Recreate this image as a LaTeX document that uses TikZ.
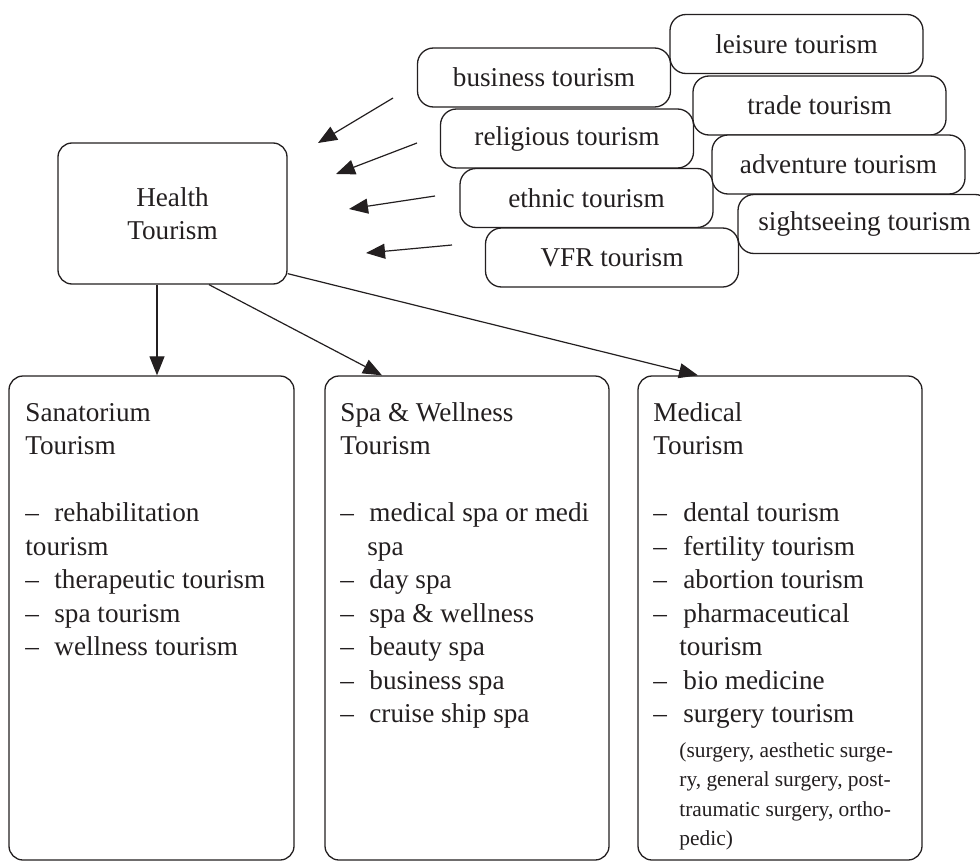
\documentclass[tikz,border=0pt]{standalone}
\usepackage{fontspec}
\setmainfont{Liberation Serif}
\usetikzlibrary{arrows.meta}
\definecolor{ink}{RGB}{35,31,32}
\newcommand\mainsz{\fontsize{13.6}{16.8}\selectfont}
\newcommand\smallsz{\fontsize{10.7}{14.75}\selectfont}
\begin{document}
\begin{tikzpicture}[x=0.5pt,y=-0.5pt,
  every node/.append style={text=ink},
  tbox/.style={draw=ink, line width=0.65pt, fill=white, rounded corners=8pt,
    minimum width=126.5pt, minimum height=29.5pt, inner sep=0pt, font=\mainsz},
  hbox/.style={draw=ink, line width=0.65pt, fill=white, rounded corners=7pt,
    minimum width=114.5pt, minimum height=70.5pt, inner sep=0pt, align=center, font=\mainsz},
  bbox/.style={draw=ink, line width=0.65pt, fill=white, rounded corners=7pt,
    minimum height=242pt, inner sep=0pt},
  ln/.style={anchor=base west, inner sep=0pt, font=\mainsz},
  sln/.style={anchor=base west, inner sep=0pt, font=\smallsz},
  arr/.style={draw=ink, line width=0.6pt, -{Triangle[length=9.5pt,width=7.5pt]}}
]
\path[use as bounding box, clip] (0,0) rectangle (980,862);

% Health Tourism
\node[hbox] (health) at (172.5,213.5) {Health\\Tourism};

% top tourism boxes
\node[tbox] (business) at (544,77.5) {business tourism};
\node[tbox] (religious) at (567,138.5) {religious tourism};
\node[tbox] (ethnic) at (586.5,198) {ethnic tourism};
\node[tbox] (vfr) at (612,257.5) {VFR tourism};
\node[tbox] (leisure) at (796.5,44) {leisure tourism};
\node[tbox] (trade) at (819.5,105.5) {trade tourism};
\node[tbox] (adventure) at (838.5,164.5) {adventure tourism};
\node[tbox] (sightseeing) at (864.5,224) {sightseeing tourism};

% incoming arrows (free ends)
\coordinate (t1) at (393,98);  \coordinate (h1) at (318,143);
\coordinate (t2) at (417,143); \coordinate (h2) at (336,174);
\coordinate (t3) at (435,196); \coordinate (h3) at (349,209);
\coordinate (t4) at (452,245); \coordinate (h4) at (366,253);
\draw[arr] (t1) -- (h1);
\draw[arr] (t2) -- (h2);
\draw[arr] (t3) -- (h3);
\draw[arr] (t4) -- (h4);

% bottom boxes
\node[bbox, minimum width=142.5pt] (sana) at (151.5,618) {};
\node[bbox, minimum width=142pt] (spa) at (467,618) {};
\node[bbox, minimum width=142pt] (med) at (780,618) {};

% arrows down
\draw[arr] ([xshift=-7.75pt]health.south) -- ([xshift=-7.75pt]health.south |- sana.north);
\draw[arr] ([xshift=18.25pt]health.south) -- ([xshift=-42.5pt]spa.north);
\draw[arr] ([yshift=5.5pt]health.south east) -- ([xshift=-41pt]med.north);

% Sanatorium text
\node[ln] (s0) at (25,421) {Sanatorium};
\node[ln] (s1) at (25,454.5) {Tourism};
\node[ln] (s3d) at (25,521.5) {–};
\node[ln] (s3) at (54,521.5) {rehabilitation};
\node[ln] (s4) at (25,555) {tourism};
\node[ln] (s5d) at (25,588.5) {–};
\node[ln] (s5) at (54,588.5) {therapeutic tourism};
\node[ln] (s6d) at (25,622) {–};
\node[ln] (s6) at (54,622) {spa tourism};
\node[ln] (s7d) at (25,655.5) {–};
\node[ln] (s7) at (54,655.5) {wellness tourism};

% Spa text
\node[ln] (p0) at (340,421) {Spa \& Wellness};
\node[ln] (p1) at (340,454.5) {Tourism};
\node[ln] (p3d) at (340,521.5) {–};
\node[ln] (p3) at (369,521.5) {medical spa or medi};
\node[ln] (p4) at (367,555) {spa};
\node[ln] (p5d) at (340,588.5) {–};
\node[ln] (p5) at (369,588.5) {day spa};
\node[ln] (p6d) at (340,622) {–};
\node[ln] (p6) at (369,622) {spa \& wellness};
\node[ln] (p7d) at (340,655.5) {–};
\node[ln] (p7) at (369,655.5) {beauty spa};
\node[ln] (p8d) at (340,689) {–};
\node[ln] (p8) at (369,689) {business spa};
\node[ln] (p9d) at (340,722.5) {–};
\node[ln] (p9) at (369,722.5) {cruise ship spa};

% Medical text
\node[ln] (m0) at (653,421) {Medical};
\node[ln] (m1) at (653,454.5) {Tourism};
\node[ln] (m3d) at (653,521.5) {–};
\node[ln] (m3) at (683,521.5) {dental tourism};
\node[ln] (m4d) at (653,555) {–};
\node[ln] (m4) at (683,555) {fertility tourism};
\node[ln] (m5d) at (653,588.5) {–};
\node[ln] (m5) at (683,588.5) {abortion tourism};
\node[ln] (m6d) at (653,622) {–};
\node[ln] (m6) at (683,622) {pharmaceutical};
\node[ln] (m7) at (679,655.5) {tourism};
\node[ln] (m8d) at (653,689) {–};
\node[ln] (m8) at (683,689) {bio medicine};
\node[ln] (m9d) at (653,722.5) {–};
\node[ln] (m9) at (683,722.5) {surgery tourism};
\node[sln] (m10) at (679,757) {(surgery, aesthetic surge-};
\node[sln] (m11) at (679,786.5) {ry, general surgery, post-};
\node[sln] (m12) at (679,816) {traumatic surgery, ortho-};
\node[sln] (m13) at (679,845.5) {pedic)};
\end{tikzpicture}
\end{document}
